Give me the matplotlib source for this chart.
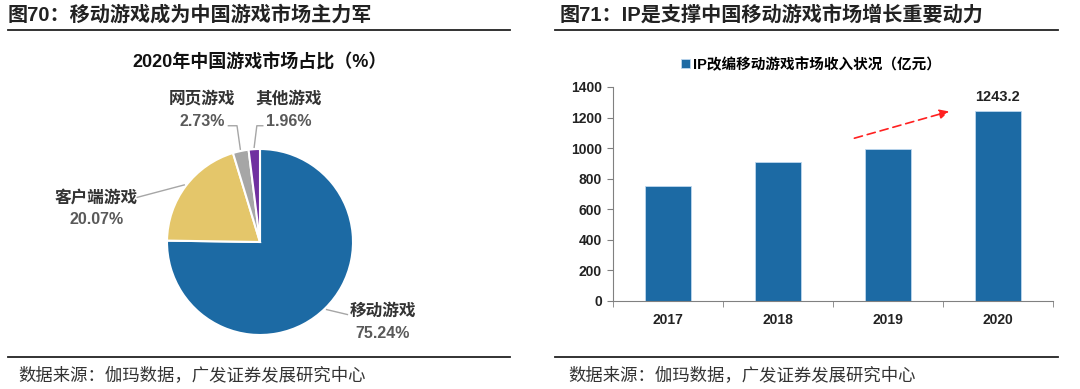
import matplotlib
matplotlib.use("Agg")
import matplotlib.pyplot as plt
import numpy as np

plt.rcParams['font.family'] = ['Liberation Sans', 'Noto Sans CJK SC', 'DejaVu Sans']

# left panel: 2020 market share
share_labels = ["移动游戏", "客户端游戏", "网页游戏", "其他游戏"]
share_values = [75.24, 20.07, 2.73, 1.96]
share_colors = ["#1C6AA4", "#E4C66A", "#A6A6A6", "#7030A0"]

# right panel: IP adapted mobile game revenue
years = ["2017", "2018", "2019", "2020"]
revenue = [752, 909, 992, 1243.2]

W, H = 1080, 389
fig = plt.figure(figsize=(W / 100, H / 100), dpi=100)


def box(x0, y_top, w, h):
    # pixel box (top-left origin) -> figure fraction
    return [x0 / W, (H - y_top - h) / H, w / W, h / H]


# headers / footers
fig.text(8 / W, 1 - 15 / H, "图70：移动游戏成为中国游戏市场主力军", fontsize=14.5,
         fontweight="bold", color="#222222", va="center", ha="left")
fig.text(560 / W, 1 - 15 / H, "图71：IP是支撑中国移动游戏市场增长重要动力", fontsize=14.5,
         fontweight="bold", color="#222222", va="center", ha="left")
for x0, x1 in [(8, 510), (555, 1058)]:
    fig.add_artist(plt.Line2D([x0 / W, x1 / W], [1 - 30 / H] * 2, color="#222222", lw=1.3))
    fig.add_artist(plt.Line2D([x0 / W, x1 / W], [1 - 357 / H] * 2, color="#222222", lw=1.3))
fig.text(18 / W, 1 - 375 / H, "数据来源：伽玛数据，广发证券发展研究中心", fontsize=12.5,
         color="#333333", va="center", ha="left")
fig.text(568 / W, 1 - 375 / H, "数据来源：伽玛数据，广发证券发展研究中心", fontsize=12.5,
         color="#333333", va="center", ha="left")

# pie
R = 93
cx, cy = 260, 242
ax1 = fig.add_axes(box(cx - 1.25 * R, cy - 1.25 * R, 2.5 * R, 2.5 * R))
wedges, _ = ax1.pie(share_values, colors=share_colors, startangle=90, counterclock=False,
                    wedgeprops=dict(edgecolor="white", linewidth=1.5))
ax1.set_xlim(-1.25, 1.25)
ax1.set_ylim(-1.25, 1.25)
ax1.set_aspect("equal")
fig.text(cx / W, 1 - 63 / H, "2020年中国游戏市场占比（%）", fontsize=13, fontweight="bold",
         color="#111111", ha="center", va="center")

# label positions (layout) in pie units
label_pos = [(1.32, -0.86), (-1.76, 0.36), (-0.62, 1.42), (0.31, 1.42)]
line_end = [(0.94, -0.78), (-1.32, 0.48), (-0.34, 1.25), (0.03, 1.25)]
for w, lab, val, (tx, ty), (lx, ly) in zip(wedges, share_labels, share_values, label_pos, line_end):
    ang = np.deg2rad((w.theta1 + w.theta2) / 2)
    px, py = np.cos(ang), np.sin(ang)
    if abs(lx) < 0.5:
        # elbow leader for the small top slices
        ax1.plot([px * 1.02, px * 1.0 + (lx - px) * 0.3, lx], [py * 1.02, ly, ly],
                 color="#A6A6A6", lw=1, clip_on=False)
    else:
        ax1.plot([px * 1.02, lx], [py * 1.02, ly], color="#A6A6A6", lw=1, clip_on=False)
    ax1.text(tx, ty + 0.12, lab, fontsize=12, fontweight="bold", color="#333333",
             ha="center", va="center", family=["Noto Sans CJK SC"])
    ax1.text(tx, ty - 0.12, f"{val:.2f}%", fontsize=11.5, fontweight="bold", color="#595959",
             ha="center", va="center")

# bar chart
ax2 = fig.add_axes(box(613, 87, 440, 214))
x = np.arange(len(years))
ax2.bar(x, revenue, width=0.41, color="#1C6AA4", edgecolor="#BDD7EE", linewidth=0.6,
        label="IP改编移动游戏市场收入状况（亿元）")
ax2.set_xlim(-0.5, 3.5)
ax2.set_ylim(0, 1400)
ax2.set_yticks(np.arange(0, 1401, 200))
ax2.set_xticks(x)
ax2.set_xticklabels(years)
ax2.set_xticks(np.arange(-0.5, 3.6, 1), minor=True)
ax2.tick_params(axis="x", which="major", length=0, pad=9, labelsize=10)
ax2.tick_params(axis="x", which="minor", length=4, direction="out", color="#808080")
ax2.tick_params(axis="y", length=4, direction="out", color="#808080", labelsize=10, pad=4)
for lab in ax2.get_xticklabels() + ax2.get_yticklabels():
    lab.set_fontweight("bold")
    lab.set_color("#222222")
for s in ["top", "right"]:
    ax2.spines[s].set_visible(False)
for s in ["left", "bottom"]:
    ax2.spines[s].set_color("#808080")
ax2.text(x[-1], revenue[-1] + 45, f"{revenue[-1]:.1f}", ha="center", va="bottom",
         fontsize=10.5, fontweight="bold", color="#222222")
ax2.annotate("", xy=(2.58, 1245), xytext=(1.67, 1060),
             arrowprops=dict(arrowstyle="-|>", color="#FF2020", lw=1.2, ls=(0, (5, 3)),
                             mutation_scale=14))
leg = ax2.legend(loc="center", bbox_to_anchor=(0.45, 1.105), frameon=False, fontsize=10.5,
                 handlelength=0.6, handleheight=0.6, handletextpad=0.2)
for t in leg.get_texts():
    t.set_fontweight("bold")

fig.savefig("out.png", dpi=100)
